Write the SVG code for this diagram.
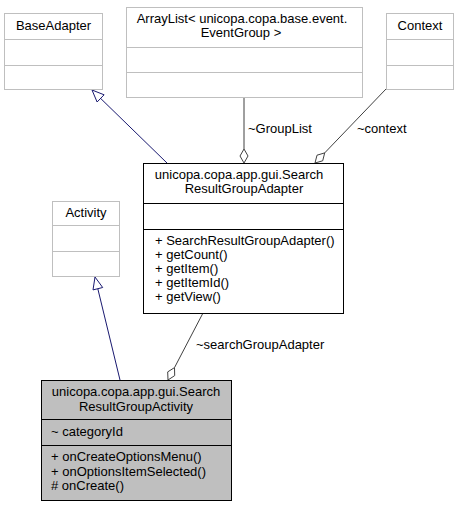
<svg xmlns="http://www.w3.org/2000/svg" width="459" height="507" viewBox="0 0 459 507">
<style>
text{font-family:"Liberation Sans",Arial,sans-serif;font-size:13px;fill:#000}
.ext{fill:#fff;stroke:#bfbfbf;stroke-width:1}
.int{fill:#fff;stroke:#000;stroke-width:1}
.sel{fill:#bfbfbf;stroke:#000;stroke-width:1}
.c{text-anchor:middle}
.inh{fill:none;stroke:#191970;stroke-width:1}
.inhh{fill:#fff;stroke:#191970;stroke-width:1}
.agg{fill:none;stroke:#404040;stroke-width:1}
.aggh{fill:#fff;stroke:#404040;stroke-width:1}
</style>
<rect width="459" height="507" fill="#fff"/>
<g id="connectors">
<line class="inh" x1="167" y1="163" x2="100.6" y2="98.4"/>
<polygon class="inhh" points="92,90 104.1,94.8 97.1,102"/>
<line class="inh" x1="120" y1="380" x2="97.8" y2="288.7"/>
<polygon class="inhh" points="95,277 102.7,287.5 93,289.9"/>
<line class="agg" x1="244" y1="97" x2="244" y2="149"/>
<polygon class="aggh" points="244,163 240,156 244,149 248,156"/>
<text x="248" y="133">~GroupList</text>
<line class="agg" x1="386" y1="89" x2="324.7" y2="152.9"/>
<polygon class="aggh" points="315,163 317,155.2 324.7,152.9 322.7,160.8"/>
<text x="357" y="133">~context</text>
<line class="agg" x1="203" y1="313" x2="174.5" y2="367.6"/>
<polygon class="aggh" points="168,380 167.7,371.9 174.5,367.6 174.7,375.6"/>
<text x="196" y="349">~searchGroupAdapter</text>
</g>
<g id="BaseAdapter">
<rect class="ext" x="4.5" y="13.5" width="98" height="76"/>
<line class="ext" x1="4.5" y1="39.5" x2="102.5" y2="39.5"/>
<line class="ext" x1="4.5" y1="65.5" x2="102.5" y2="65.5"/>
<text class="c" x="53.5" y="30">BaseAdapter</text>
</g>
<g id="ArrayList">
<rect class="ext" x="126.5" y="7.5" width="236" height="90"/>
<line class="ext" x1="126.5" y1="47.5" x2="362.5" y2="47.5"/>
<line class="ext" x1="126.5" y1="72.5" x2="362.5" y2="72.5"/>
<text class="c" x="242" y="23">ArrayList&lt; unicopa.copa.base.event.</text>
<text class="c" x="241" y="37">EventGroup &gt;</text>
</g>
<g id="Context">
<rect class="ext" x="386.5" y="13.5" width="67" height="76"/>
<line class="ext" x1="386.5" y1="39.5" x2="453.5" y2="39.5"/>
<line class="ext" x1="386.5" y1="65.5" x2="453.5" y2="65.5"/>
<text class="c" x="420" y="30">Context</text>
</g>
<g id="Activity">
<rect class="ext" x="52.5" y="201.5" width="67" height="75"/>
<line class="ext" x1="52.5" y1="225.5" x2="119.5" y2="225.5"/>
<line class="ext" x1="52.5" y1="251.5" x2="119.5" y2="251.5"/>
<text class="c" x="86" y="217">Activity</text>
</g>
<g id="SearchResultGroupAdapter">
<rect class="int" x="143.5" y="163.5" width="200" height="150"/>
<line class="int" x1="143.5" y1="203.5" x2="343.5" y2="203.5"/>
<line class="int" x1="143.5" y1="229.5" x2="343.5" y2="229.5"/>
<text class="c" x="239" y="179">unicopa.copa.app.gui.Search</text>
<text class="c" x="244" y="193">ResultGroupAdapter</text>
<text x="155" y="245">+ SearchResultGroupAdapter()</text>
<text x="155" y="259">+ getCount()</text>
<text x="155" y="273">+ getItem()</text>
<text x="155" y="287">+ getItemId()</text>
<text x="155" y="301">+ getView()</text>
</g>
<g id="SearchResultGroupActivity">
<rect class="sel" x="41.5" y="380.5" width="190" height="120"/>
<line class="sel" x1="41.5" y1="419.5" x2="231.5" y2="419.5"/>
<line class="sel" x1="41.5" y1="445.5" x2="231.5" y2="445.5"/>
<text class="c" x="136" y="396">unicopa.copa.app.gui.Search</text>
<text class="c" x="136" y="411">ResultGroupActivity</text>
<text x="51" y="436">~ categoryId</text>
<text x="51" y="461">+ onCreateOptionsMenu()</text>
<text x="51" y="476">+ onOptionsItemSelected()</text>
<text x="51" y="490">&#35; onCreate()</text>
</g>
</svg>
